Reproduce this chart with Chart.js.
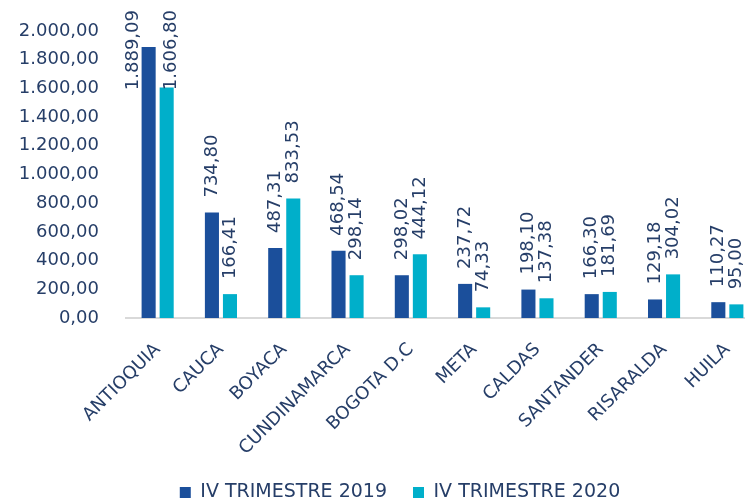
<!DOCTYPE html>
<html>
<head>
<meta charset="utf-8">
<script src="https://cdn.jsdelivr.net/npm/chart.js@4/dist/chart.umd.min.js"></script>
<style>
  html, body { margin: 0; padding: 0; background: #fff; overflow: hidden; }
</style>
</head>
<body>
<canvas id="chart" width="760" height="500"></canvas>
<script>
const departamentos = ["ANTIOQUIA", "CAUCA", "BOYACA", "CUNDINAMARCA", "BOGOTA D.C", "META", "CALDAS", "SANTANDER", "RISARALDA", "HUILA"];
const trimestre2019 = [1889.09, 734.80, 487.31, 468.54, 298.02, 237.72, 198.10, 166.30, 129.18, 110.27];
const trimestre2020 = [1606.80, 166.41, 833.53, 298.14, 444.12, 74.33, 137.38, 181.69, 304.02, 95.00];
const serieNombres = ["IV TRIMESTRE 2019", "IV TRIMESTRE 2020"];

const textColor = "#263E68";
const font = "DejaVu Sans";

// 1889.09 -> "1.889,09"
function formato(v) {
    const partes = v.toFixed(2).split(".");
    partes[0] = partes[0].replace(/\B(?=(\d{3})+(?!\d))/g, ".");
    return partes.join(",");
}

const etiquetas = {
    id: "etiquetas",
    afterDatasetsDraw(chart) {
        const ctx = chart.ctx;
        ctx.save();
        ctx.font = "18px '" + font + "'";
        ctx.fillStyle = textColor;
        ctx.textAlign = "left";
        ctx.textBaseline = "middle";
        chart.data.datasets.forEach((ds, di) => {
            chart.getDatasetMeta(di).data.forEach((bar, i) => {
                const txt = formato(ds.data[i]);
                const w = ctx.measureText(txt).width;
                let x = bar.x;
                let y = bar.y - 15;
                if (y - w < 8) {
                    // no cabe encima: se pega arriba y se corre a un lado
                    y = 10 + w;
                    x = di === 0 ? bar.x - bar.width / 2 - 8 : bar.x + 5;
                }
                ctx.save();
                ctx.translate(x, y);
                ctx.rotate(-Math.PI / 2);
                ctx.fillText(txt, 0, 0);
                ctx.restore();
            });
        });
        ctx.restore();
    }
};

const ajustes = {
    id: "ajustes",
    afterLayout(chart) {
        const lg = chart.legend;
        const shift = 400 - (lg.left + lg.right) / 2;
        lg.left += shift;
        lg.right += shift;
        lg.top += 12;
        lg.bottom += 12;
        // que no se recorten las etiquetas largas del eje x
        chart.scales.x.bottom += 25;
    }
};

new Chart(document.getElementById("chart"), {
    type: "bar",
    data: {
        labels: departamentos,
        datasets: [
            {
                label: serieNombres[0],
                data: trimestre2019,
                backgroundColor: "#1B4F9B",
                categoryPercentage: 0.57,
                barPercentage: 0.78,
            },
            {
                label: serieNombres[1],
                data: trimestre2020,
                backgroundColor: "#00AFCA",
                categoryPercentage: 0.57,
                barPercentage: 0.78,
            },
        ],
    },
    options: {
        responsive: false,
        animation: false,
        layout: { padding: { top: 31, left: 0, right: 1, bottom: 0 } },
        plugins: {
            tooltip: { enabled: false },
            legend: {
                position: "bottom",
                labels: {
                    color: textColor,
                    font: { family: font, size: 19 },
                    boxWidth: 11,
                    boxHeight: 11,
                    padding: 26,
                },
            },
        },
        scales: {
            x: {
                grid: { display: false },
                border: { display: true, color: "#D9D9D9", width: 2 },
                ticks: {
                    color: textColor,
                    font: { family: font, size: 18 },
                    minRotation: 45,
                    maxRotation: 45,
                    padding: 13,
                },
                afterFit(scale) { scale.height = 127; },
            },
            y: {
                min: 0,
                max: 2000,
                grid: { display: false },
                border: { display: false },
                ticks: {
                    stepSize: 200,
                    color: textColor,
                    font: { family: font, size: 18 },
                    padding: 19,
                    callback: (v) => formato(v),
                },
                afterFit(scale) { scale.width = 126; },
            },
        },
    },
    plugins: [etiquetas, ajustes],
});
</script>
</body>
</html>
